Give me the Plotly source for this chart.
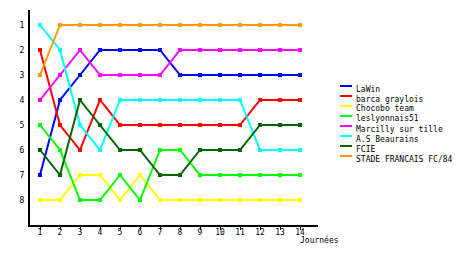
import plotly.graph_objects as go

journees = list(range(1, 15))
names = ["LaWin", "barca graylois", "Chocobo team", "leslyonnais51",
         "Marcilly sur tille", "A.S Beaurains", "FCIE", "STADE FRANCAIS FC/84"]
colors = ["#0000FF", "#FF0000", "#FFFF00", "#00FF00",
          "#FF00FF", "#00FFFF", "#006600", "#FF9900"]
lawin = [7, 4, 3, 2, 2, 2, 2, 3, 3, 3, 3, 3, 3, 3]
barca = [2, 5, 6, 4, 5, 5, 5, 5, 5, 5, 5, 4, 4, 4]
chocobo = [8, 8, 7, 7, 8, 7, 8, 8, 8, 8, 8, 8, 8, 8]
leslyonnais = [5, 6, 8, 8, 7, 8, 6, 6, 7, 7, 7, 7, 7, 7]
marcilly = [4, 3, 2, 3, 3, 3, 3, 2, 2, 2, 2, 2, 2, 2]
beaurains = [1, 2, 5, 6, 4, 4, 4, 4, 4, 4, 4, 6, 6, 6]
fcie = [6, 7, 4, 5, 6, 6, 7, 7, 6, 6, 6, 5, 5, 5]
stade = [3, 1, 1, 1, 1, 1, 1, 1, 1, 1, 1, 1, 1, 1]
series = [lawin, barca, chocobo, leslyonnais, marcilly, beaurains, fcie, stade]
yticks = list(range(1, 9))

W, H = 460, 255
L, R, T, B = 30, 142, 10, 30
pw, ph = W - L - R, H - T - B

def px(x):
    return (x - L) / pw

def py(y):
    return (H - B - y) / ph

fig = go.Figure()
for name, col, vals in zip(names, colors, series):
    fig.add_trace(go.Scatter(
        x=journees, y=vals, name=name, mode="lines+markers",
        line=dict(color=col, width=2, shape="linear"),
        marker=dict(color=col, size=4, symbol="square"),
        showlegend=False))

font = "DejaVu Sans Mono"
shapes = []
annotations = []
for i, (name, col) in enumerate(zip(names, colors)):
    yy = 86 + 10 * i
    shapes.append(dict(type="line", xref="paper", yref="paper",
                       x0=px(340), x1=px(352), y0=py(yy), y1=py(yy),
                       line=dict(color=col, width=2)))
    annotations.append(dict(xref="paper", yref="paper", x=px(354), y=py(yy + 3),
                            text=name, showarrow=False, xanchor="left",
                            yanchor="middle", font=dict(family=font, size=8, color="black")))
annotations.append(dict(xref="paper", yref="paper", x=px(319), y=py(240),
                        text="Journées", showarrow=False, xanchor="center",
                        yanchor="middle", font=dict(family=font, size=8, color="black")))

fig.update_layout(
    width=W, height=H, margin=dict(l=L, r=R, t=T, b=B),
    paper_bgcolor="white", plot_bgcolor="white",
    shapes=shapes, annotations=annotations,
    xaxis=dict(range=[0.5, 14.9], tickvals=journees, showgrid=False, zeroline=False,
               showline=True, linecolor="black", linewidth=2,
               ticks="outside", ticklen=3, tickcolor="black",
               ticklabelstandoff=-5,
               tickfont=dict(family=font, size=8, color="black")),
    yaxis=dict(range=[9, 0.4], tickvals=yticks, showgrid=False, zeroline=False,
               showline=True, linecolor="black", linewidth=2, ticks="",
               ticklabelstandoff=2,
               tickfont=dict(family=font, size=8, color="black")),
)
fig.write_html("out.html")
